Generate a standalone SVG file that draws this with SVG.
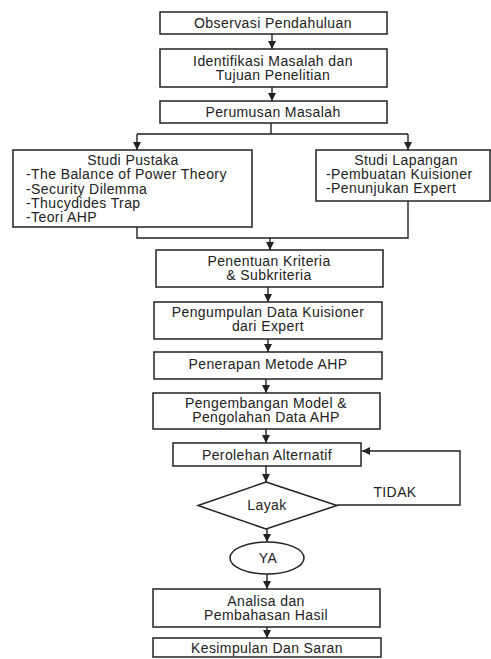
<svg xmlns="http://www.w3.org/2000/svg" width="491" height="659" viewBox="0 0 491 659">
<style>
.box{fill:#fff;stroke:#222;stroke-width:1.5}
.t{font-family:"Liberation Sans",Arial,sans-serif;font-size:14px;letter-spacing:0.4px;fill:#222;text-anchor:middle}
.l{font-family:"Liberation Sans",Arial,sans-serif;font-size:14px;letter-spacing:0.4px;fill:#222;text-anchor:start}
.c{fill:none;stroke:#222;stroke-width:1.4}
</style>
<defs>
<marker id="ah" markerWidth="9" markerHeight="8" refX="8" refY="4" orient="auto" markerUnits="userSpaceOnUse">
<path d="M0,0 L8,4 L0,8 Z" fill="#222"/>
</marker>
</defs>
<rect width="491" height="659" fill="#fff"/>
<g id="connectors">
<path class="c" d="M272,34 V49" marker-end="url(#ah)"/>
<path class="c" d="M272,87 V101" marker-end="url(#ah)"/>
<path class="c" d="M271,123 V134 M137,134 H408"/>
<path class="c" d="M137,134 V150" marker-end="url(#ah)"/>
<path class="c" d="M408,134 V150" marker-end="url(#ah)"/>
<path class="c" d="M137,227 V238 H408 V201"/>
<path class="c" d="M270,238 V250" marker-end="url(#ah)"/>
<path class="c" d="M268,287 V302" marker-end="url(#ah)"/>
<path class="c" d="M268,339 V352" marker-end="url(#ah)"/>
<path class="c" d="M266,379 V393" marker-end="url(#ah)"/>
<path class="c" d="M266,429 V443" marker-end="url(#ah)"/>
<path class="c" d="M266,466 V482" marker-end="url(#ah)"/>
<path class="c" d="M337,505 H460 V451 H362" marker-end="url(#ah)"/>
<path class="c" d="M267,529 V542" marker-end="url(#ah)"/>
<path class="c" d="M267,574 V589" marker-end="url(#ah)"/>
<path class="c" d="M267,627 V638" marker-end="url(#ah)"/>
</g>
<g id="n1"><rect class="box" x="160" y="12" width="227" height="22"/><text class="t" x="273" y="28">Observasi Pendahuluan</text></g>
<g id="n2"><rect class="box" x="160" y="49" width="227" height="38"/><text class="t" x="273" y="66">Identifikasi Masalah dan</text><text class="t" x="273" y="80">Tujuan Penelitian</text></g>
<g id="n3"><rect class="box" x="160" y="101" width="227" height="22"/><text class="t" x="273" y="117">Perumusan Masalah</text></g>
<g id="n4"><rect class="box" x="13" y="150" width="239" height="77"/><text class="t" x="133" y="165">Studi Pustaka</text>
<text class="l" x="26" y="179">-The Balance of Power Theory</text>
<text class="l" x="26" y="194">-Security Dilemma</text>
<text class="l" x="26" y="208">-Thucydides Trap</text>
<text class="l" x="26" y="222">-Teori AHP</text></g>
<g id="n5"><rect class="box" x="316" y="150" width="174" height="51"/><text class="t" x="406" y="165">Studi Lapangan</text>
<text class="l" x="326" y="179">-Pembuatan Kuisioner</text>
<text class="l" x="326" y="193">-Penunjukan Expert</text></g>
<g id="n6"><rect class="box" x="156" y="250" width="227" height="37"/><text class="t" x="269" y="266">Penentuan Kriteria</text><text class="t" x="269" y="280">&amp; Subkriteria</text></g>
<g id="n7"><rect class="box" x="154" y="302" width="228" height="37"/><text class="t" x="268" y="317">Pengumpulan Data Kuisioner</text><text class="t" x="268" y="331">dari Expert</text></g>
<g id="n8"><rect class="box" x="154" y="352" width="228" height="27"/><text class="t" x="268" y="369">Penerapan Metode AHP</text></g>
<g id="n9"><rect class="box" x="153" y="393" width="227" height="36"/><text class="t" x="266" y="408">Pengembangan Model &amp;</text><text class="t" x="266" y="422">Pengolahan Data AHP</text></g>
<g id="n10"><rect class="box" x="173" y="443" width="188" height="23"/><text class="t" x="267" y="460">Perolehan Alternatif</text></g>
<g id="n11"><polygon class="box" points="266,482 337,505.5 266,529 198,505.5"/><text class="t" x="267" y="510">Layak</text></g>
<text class="t" x="395" y="497">TIDAK</text>
<g id="n12"><ellipse class="box" cx="267" cy="558" rx="37" ry="16"/><text class="t" x="268" y="563">YA</text></g>
<g id="n13"><rect class="box" x="153" y="589" width="227" height="38"/><text class="t" x="266" y="606">Analisa dan</text><text class="t" x="266" y="620">Pembahasan Hasil</text></g>
<g id="n14"><rect class="box" x="153" y="638" width="228" height="19"/><text class="t" x="267" y="653">Kesimpulan Dan Saran</text></g>
</svg>
